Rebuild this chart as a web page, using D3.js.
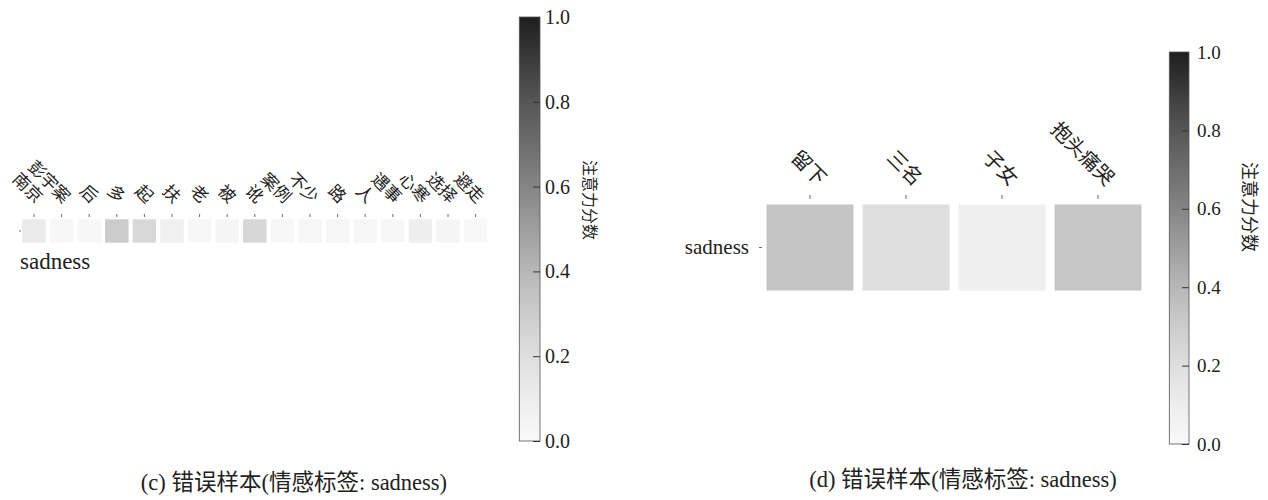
<!DOCTYPE html>
<html>
<head>
<meta charset="utf-8">
<script src="https://cdn.jsdelivr.net/npm/d3@7"></script>
<style>
  html, body { margin: 0; padding: 0; background: #fff; }
  svg { display: block; }
  svg text { fill: #222; }
</style>
</head>
<body>
<svg id="chart" width="1268" height="500"></svg>
<script>
// ---- data ----
const tokensC = ["南京","彭宇案","后","多","起","扶","老","被","讹","案例","不少","路","人","遇事","心寒","选择","避走"];
const valuesC = [0.12,0.02,0.02,0.30,0.235,0.08,0.02,0.04,0.24,0.02,0.03,0.025,0.025,0.02,0.095,0.04,0.01];
const tokensD = ["留下","三名","子女","抱头痛哭"];
const valuesD = [0.335,0.20,0.088,0.325];
const rowLabels = ["sadness"];
const cbTicks = [0.0,0.2,0.4,0.6,0.8,1.0];
const cbLabel = "注意力分数";
const titleC = "(c) 错误样本(情感标签: sadness)";
const titleD = "(d) 错误样本(情感标签: sadness)";

const LATIN = "'Liberation Serif'";
const CJK = "'Noto Sans CJK SC'";

// ---- colour ----
const color = v => d3.interpolateGreys(0.05 + 0.85 * v);

const svg = d3.select("#chart");
const defs = svg.append("defs");

// write mixed text as runs so Latin uses the serif face and Han uses the CJK face
function mixedText(sel, str) {
  const runs = str.match(/[\u3000-\u9fff\uff00-\uffef]+|[^\u3000-\u9fff\uff00-\uffef]+/g) || [];
  sel.text(null);
  runs.forEach(r => {
    const isCjk = /[\u3000-\u9fff\uff00-\uffef]/.test(r);
    sel.append("tspan").style("font-family", isCjk ? CJK : LATIN).text(r);
  });
}

function panel(cfg) {
  const g = svg.append("g");
  const x = d3.scaleBand().domain(cfg.tokens).range(cfg.xRange).paddingInner(cfg.pad).paddingOuter(cfg.pad / 2);
  const y = d3.scaleBand().domain(rowLabels).range(cfg.yRange).paddingInner(cfg.pad).paddingOuter(cfg.pad / 2);

  // cells
  g.selectAll("rect.cell")
    .data(cfg.tokens.map((t, i) => ({ t, v: cfg.values[i] })))
    .join("rect")
    .attr("class", "cell")
    .attr("x", d => x(d.t))
    .attr("y", y(rowLabels[0]))
    .attr("width", x.bandwidth())
    .attr("height", y.bandwidth())
    .attr("fill", d => color(d.v));

  // x axis (top)
  const xa = g.append("g")
    .attr("transform", `translate(0,${cfg.xAxisY})`)
    .call(d3.axisTop(x).tickSizeInner(cfg.tick).tickSizeOuter(0));
  xa.select(".domain").remove();
  xa.attr("font-family", null).attr("font-size", null);
  xa.selectAll(".tick line").attr("stroke", "#444").attr("stroke-width", 0.8);
  xa.selectAll(".tick text")
    .attr("x", 0).attr("y", 0).attr("dy", null)
    .attr("text-anchor", "end")
    .style("font-size", cfg.xFont + "px")
    .style("font-family", CJK)
    .attr("transform", `translate(${cfg.lblDx},${-(cfg.tick + cfg.lblGap)}) rotate(45)`);

  // y axis
  const ya = g.append("g")
    .attr("transform", `translate(${cfg.yAxisX},0)`)
    .call(d3.axisLeft(y).tickSizeInner(cfg.ytick).tickSizeOuter(0).tickPadding(cfg.yPad));
  ya.select(".domain").remove();
  ya.attr("font-family", null).attr("font-size", null);
  ya.selectAll(".tick line").attr("stroke", "#444").attr("stroke-width", 0.8);
  ya.selectAll(".tick text").style("font-size", cfg.yFont + "px").style("font-family", LATIN);
  if (cfg.yLabelBelow) {
    ya.selectAll(".tick text")
      .attr("text-anchor", "start")
      .attr("x", cfg.yLabelBelow.x - cfg.yAxisX)
      .attr("y", cfg.yLabelBelow.y - (y(rowLabels[0]) + y.bandwidth() / 2))
      .attr("dy", null);
  }

  // colorbar
  const cb = cfg.cb;
  const gid = "grad" + cfg.id;
  const grad = defs.append("linearGradient").attr("id", gid)
    .attr("x1", 0).attr("y1", 1).attr("x2", 0).attr("y2", 0);
  d3.range(0, 1.0001, 0.05).forEach(t => {
    grad.append("stop").attr("offset", t).attr("stop-color", color(t));
  });
  const cs = d3.scaleLinear().domain([0, 1]).range([cb.y1, cb.y0]);
  g.append("rect")
    .attr("x", cb.x).attr("y", cs(1)).attr("width", cb.w).attr("height", cs(0) - cs(1))
    .attr("fill", `url(#${gid})`)
    .attr("stroke", "#555").attr("stroke-width", 0.8);
  const ca = g.append("g")
    .attr("transform", `translate(${cb.x + cb.w},0)`)
    .call(d3.axisRight(cs).tickValues(cbTicks).tickFormat(d3.format(".1f"))
      .tickSizeInner(-cb.tick).tickSizeOuter(0).tickPadding(cb.pad));
  ca.select(".domain").remove();
  ca.attr("font-family", null).attr("font-size", null);
  ca.selectAll(".tick line").attr("stroke", "#333").attr("stroke-width", 1);
  ca.selectAll(".tick text").style("font-size", cb.font + "px").style("font-family", LATIN);

  g.append("text")
    .attr("transform", `translate(${cb.lx},${cb.ly}) rotate(90)`)
    .attr("text-anchor", "middle")
    .attr("dominant-baseline", "central")
    .style("font-size", cb.lfont + "px")
    .style("font-family", CJK)
    .text(cbLabel);

  // title
  g.append("text")
    .attr("x", cfg.titleX).attr("y", cfg.titleY)
    .attr("text-anchor", "middle")
    .style("font-size", "22.5px")
    .call(mixedText, cfg.title);
}

panel({
  id: "c", tokens: tokensC, values: valuesC,
  xRange: [20.2, 489.4], yRange: [217.2, 244.8], pad: 0.152,
  xAxisY: 217, tick: 3, xFont: 17, lblDx: 1.5, lblGap: 10,
  yAxisX: 21, ytick: 2, yPad: 3, yFont: 23,
  yLabelBelow: { x: 20, y: 269 },
  cb: { x: 519.3, w: 20.7, y0: 17, y1: 441, tick: 7, pad: 5, font: 20, lx: 591, ly: 200, lfont: 16 },
  title: titleC, titleX: 294, titleY: 490
});

panel({
  id: "d", tokens: tokensD, values: valuesD,
  xRange: [762, 1146], yRange: [200, 295], pad: 0.094,
  xAxisY: 199, tick: 4, xFont: 20, lblDx: 8, lblGap: 8,
  yAxisX: 762, ytick: 3, yPad: 10, yFont: 21,
  cb: { x: 1169.3, w: 19.7, y0: 52, y1: 444, tick: 7, pad: 8, font: 19, lx: 1251, ly: 207, lfont: 18 },
  title: titleD, titleX: 963, titleY: 487
});
</script>
</body>
</html>
